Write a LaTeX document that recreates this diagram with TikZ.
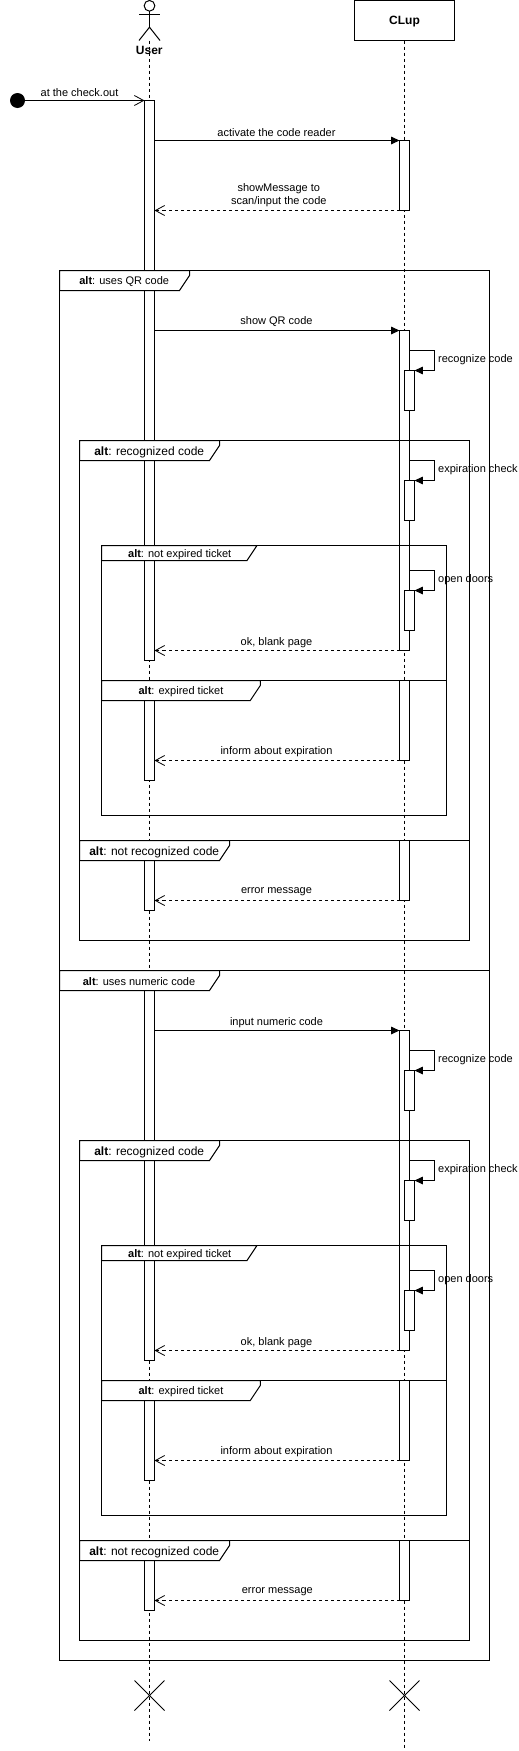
\documentclass[tikz,border=0pt]{standalone}
\usepackage{fontspec}
\setmainfont{Liberation Sans}
\usetikzlibrary{arrows.meta,shapes.misc}
\tikzset{
  umlline/.style={line width=1bp,line join=miter},
  lifeline/.style={umlline,dash pattern=on 3bp off 3bp},
  barnode/.style={umlline,draw,fill=white,rectangle,inner sep=0pt,outer sep=0pt,minimum width=10bp,anchor=north},
  msg/.style={umlline,-{Triangle[length=8.3bp,width=7.5bp]}},
  entrymsg/.style={umlline,-{Straight Barb[length=9.3bp,width=10bp,line width=0.8bp]}},
  reply/.style={lifeline,-{Straight Barb[length=9.3bp,width=10bp,line width=0.8bp,line cap=butt]}},
  altframe/.style={umlline},
  alttag/.style={umlline,draw,fill=white},
  msglabel/.style={inner sep=0pt,font=\fontsize{11bp}{13bp}\selectfont,align=center},
  taglabel/.style={inner sep=0pt,font=\fontsize{11bp}{13bp}\selectfont},
  bigtaglabel/.style={inner sep=0pt,font=\fontsize{12bp}{14bp}\selectfont},
  crossmark/.style={umlline,draw,cross out,inner sep=0pt,outer sep=0pt,minimum size=30bp},
}
\begin{document}
\begin{tikzpicture}[x=1bp,y=1bp,yscale=-1,xscale=1]
\useasboundingbox (0,0) rectangle (519,1751);
\node[umlline,draw,rectangle,inner sep=0pt,outer sep=0pt,minimum width=100bp,minimum height=40bp,text depth=0pt,font=\fontsize{12bp}{14bp}\selectfont\bfseries] (clup) at (404.5,20.5) {CLup};
\node[inner sep=0pt,font=\fontsize{12bp}{14bp}\selectfont\bfseries] (userLabel) at (149.3,50) {User};
\node[umlline,draw,circle,inner sep=0pt,outer sep=0pt,minimum size=10.7bp] (userHead) at (149.5,5.8) {};
\coordinate (userArmL) at (139,14);
\coordinate (userArmR) at (160,14);
\coordinate (userHip) at (149.5,27.2);
\coordinate (userFootL) at (139,40.5);
\coordinate (userFootR) at (160,40.5);
\coordinate (userLifeEnd) at (149.5,1741);
\coordinate (clupLifeEnd) at (404.5,1748);
\draw[umlline] (userArmL) -- (userArmR);
\draw[umlline] (userHead.south) -- (userHip);
\draw[umlline] (userFootL) -- (userHip) -- (userFootR);
\draw[lifeline] (149.5,40.5) -- (userLifeEnd);
\draw[lifeline] (clup.south) -- (clupLifeEnd);

\node[barnode,minimum height=560bp] (userBarA) at (149.5,100.5) {};
\node[barnode,minimum height=100bp] (userBarB) at (149.5,680.5) {};
\node[barnode,minimum height=70bp] (userBarC) at (149.5,840.5) {};
\node[barnode,minimum height=390bp] (userBarD) at (149.5,970.5) {};
\node[barnode,minimum height=100bp] (userBarE) at (149.5,1380.5) {};
\node[barnode,minimum height=70bp] (userBarF) at (149.5,1540.5) {};

\node[barnode,minimum height=70bp] (clupBarA) at (404.5,140.5) {};
\node[barnode,minimum height=320bp] (clupBarB) at (404.5,330.5) {};
\node[barnode,minimum height=40bp] (recogA) at (409.5,370.5) {};
\node[barnode,minimum height=40bp] (checkA) at (409.5,480.5) {};
\node[barnode,minimum height=40bp] (doorsA) at (409.5,590.5) {};
\node[barnode,minimum height=80bp] (clupBarC) at (404.5,680.5) {};
\node[barnode,minimum height=60bp] (clupBarD) at (404.5,840.5) {};
\node[barnode,minimum height=320bp] (clupBarE) at (404.5,1030.5) {};
\node[barnode,minimum height=40bp] (recogB) at (409.5,1070.5) {};
\node[barnode,minimum height=40bp] (checkB) at (409.5,1180.5) {};
\node[barnode,minimum height=40bp] (doorsB) at (409.5,1290.5) {};
\node[barnode,minimum height=80bp] (clupBarF) at (404.5,1380.5) {};
\node[barnode,minimum height=60bp] (clupBarG) at (404.5,1540.5) {};

\draw[altframe] (59.5,270.5) rectangle (489.5,970.5);
\draw[altframe] (59.5,970.5) rectangle (489.5,1660.5);
\draw[altframe] (79.5,440.5) rectangle (469.5,840.5);
\draw[altframe] (79.5,840.5) rectangle (469.5,940.5);
\draw[altframe] (101.67,545.5) rectangle (446.67,680.5);
\draw[altframe] (101.67,680.5) rectangle (446.67,815.7);
\draw[altframe] (79.5,1140.5) rectangle (469.5,1540.5);
\draw[altframe] (79.5,1540.5) rectangle (469.5,1640.5);
\draw[altframe] (101.67,1245.5) rectangle (446.67,1380.5);
\draw[altframe] (101.67,1380.5) rectangle (446.67,1515.7);

\draw[alttag] (59.5,270.5) -- (189.5,270.5) -- (189.5,275.5) -- (179.5,290.5) -- (59.5,290.5) -- cycle;
\draw[alttag] (79.5,440.5) -- (219.5,440.5) -- (219.5,445.5) -- (209.5,460.5) -- (79.5,460.5) -- cycle;
\draw[alttag] (101.67,545.5) -- (257,545.5) -- (247,560.5) -- (101.67,560.5) -- cycle;
\draw[alttag] (101.67,680.5) -- (260.3,680.5) -- (260.3,685.5) -- (250.3,700.5) -- (101.67,700.5) -- cycle;
\draw[alttag] (79.5,840.5) -- (229.5,840.5) -- (229.5,845.5) -- (219.5,860.5) -- (79.5,860.5) -- cycle;
\draw[alttag] (59.5,970.5) -- (219.5,970.5) -- (219.5,975.5) -- (209.5,990.5) -- (59.5,990.5) -- cycle;
\draw[alttag] (79.5,1140.5) -- (219.5,1140.5) -- (219.5,1145.5) -- (209.5,1160.5) -- (79.5,1160.5) -- cycle;
\draw[alttag] (101.67,1245.5) -- (257,1245.5) -- (247,1260.5) -- (101.67,1260.5) -- cycle;
\draw[alttag] (101.67,1380.5) -- (260.3,1380.5) -- (260.3,1385.5) -- (250.3,1400.5) -- (101.67,1400.5) -- cycle;
\draw[alttag] (79.5,1540.5) -- (229.5,1540.5) -- (229.5,1545.5) -- (219.5,1560.5) -- (79.5,1560.5) -- cycle;

\node[taglabel] (tagQr) at (124.2,282) {\textbf{alt}: uses QR code};
\node[bigtaglabel] (tagRecogA) at (149.2,452) {\textbf{alt}: recognized code};
\node[taglabel] (tagValidA) at (179.7,555) {\textbf{alt}: not expired ticket};
\node[taglabel] (tagExpiredA) at (181,692) {\textbf{alt}: expired ticket};
\node[bigtaglabel] (tagNoRecogA) at (154.2,852) {\textbf{alt}: not recognized code};
\node[taglabel] (tagNumeric) at (139,982) {\textbf{alt}: uses numeric code};
\node[bigtaglabel] (tagRecogB) at (149.2,1152) {\textbf{alt}: recognized code};
\node[taglabel] (tagValidB) at (179.7,1255) {\textbf{alt}: not expired ticket};
\node[taglabel] (tagExpiredB) at (181,1392) {\textbf{alt}: expired ticket};
\node[bigtaglabel] (tagNoRecogB) at (154.2,1552) {\textbf{alt}: not recognized code};

\node[circle,fill,inner sep=0pt,outer sep=0pt,minimum size=15bp] (startDot) at (17.5,100.5) {};
\draw[entrymsg] (startDot.east) -- (userBarA.north west);
\draw[msg] (userBarA.east |- clupBarA.north) -- (clupBarA.north west);
\draw[reply] (clupBarA.south west) -- (userBarA.east |- clupBarA.south);
\draw[msg] (userBarA.east |- clupBarB.north) -- (clupBarB.north west);
\draw[reply] (clupBarB.south west) -- (userBarA.east |- clupBarB.south);
\draw[reply] (clupBarC.south west) -- (userBarB.east |- clupBarC.south);
\draw[reply] (clupBarD.south west) -- (userBarC.east |- clupBarD.south);
\draw[msg] (userBarD.east |- clupBarE.north) -- (clupBarE.north west);
\draw[reply] (clupBarE.south west) -- (userBarD.east |- clupBarE.south);
\draw[reply] (clupBarF.south west) -- (userBarE.east |- clupBarF.south);
\draw[reply] (clupBarG.south west) -- (userBarF.east |- clupBarG.south);

\coordinate (loopRecogA) at (434.5,350.5);
\coordinate (loopCheckA) at (434.5,460.5);
\coordinate (loopDoorsA) at (434.5,570.5);
\coordinate (loopRecogB) at (434.5,1050.5);
\coordinate (loopCheckB) at (434.5,1160.5);
\coordinate (loopDoorsB) at (434.5,1270.5);
\draw[msg] (clupBarB.east |- loopRecogA) -- (loopRecogA) -- (loopRecogA |- recogA.north) -- (recogA.north east);
\draw[msg] (clupBarB.east |- loopCheckA) -- (loopCheckA) -- (loopCheckA |- checkA.north) -- (checkA.north east);
\draw[msg] (clupBarB.east |- loopDoorsA) -- (loopDoorsA) -- (loopDoorsA |- doorsA.north) -- (doorsA.north east);
\draw[msg] (clupBarE.east |- loopRecogB) -- (loopRecogB) -- (loopRecogB |- recogB.north) -- (recogB.north east);
\draw[msg] (clupBarE.east |- loopCheckB) -- (loopCheckB) -- (loopCheckB |- checkB.north) -- (checkB.north east);
\draw[msg] (clupBarE.east |- loopDoorsB) -- (loopDoorsB) -- (loopDoorsB |- doorsB.north) -- (doorsB.north east);

\node[msglabel] (lblCheckout) at (79.5,92.5) {at the check.out};
\node[msglabel] (lblActivate) at (276.5,132.5) {activate the code reader};
\node[msglabel] (lblShowMsg) at (278.8,195.5) {showMessage to\\scan/input the code};
\node[msglabel] (lblShowQr) at (276.5,322) {show QR code};
\node[msglabel,anchor=west] (lblRecogA) at (438,359.5) {recognize code};
\node[msglabel,anchor=west] (lblCheckA) at (438,469.5) {expiration check};
\node[msglabel,anchor=west] (lblDoorsA) at (438,579.5) {open doors};
\node[msglabel] (lblOkA) at (276.5,642.5) {ok, blank page};
\node[msglabel] (lblInformA) at (276.5,752) {inform about expiration};
\node[msglabel] (lblErrorA) at (276.5,892) {error message};
\node[msglabel] (lblNumeric) at (276.5,1022.5) {input numeric code};
\node[msglabel,anchor=west] (lblRecogB) at (438,1059.5) {recognize code};
\node[msglabel,anchor=west] (lblCheckB) at (438,1169.5) {expiration check};
\node[msglabel,anchor=west] (lblDoorsB) at (438,1279.5) {open doors};
\node[msglabel] (lblOkB) at (276.5,1342.5) {ok, blank page};
\node[msglabel] (lblInformB) at (276.5,1452) {inform about expiration};
\node[msglabel] (lblErrorB) at (277.3,1592) {error message};

\node[crossmark] (userCross) at (149.5,1695.5) {};
\node[crossmark] (clupCross) at (404.5,1695.5) {};
\end{tikzpicture}
\end{document}
